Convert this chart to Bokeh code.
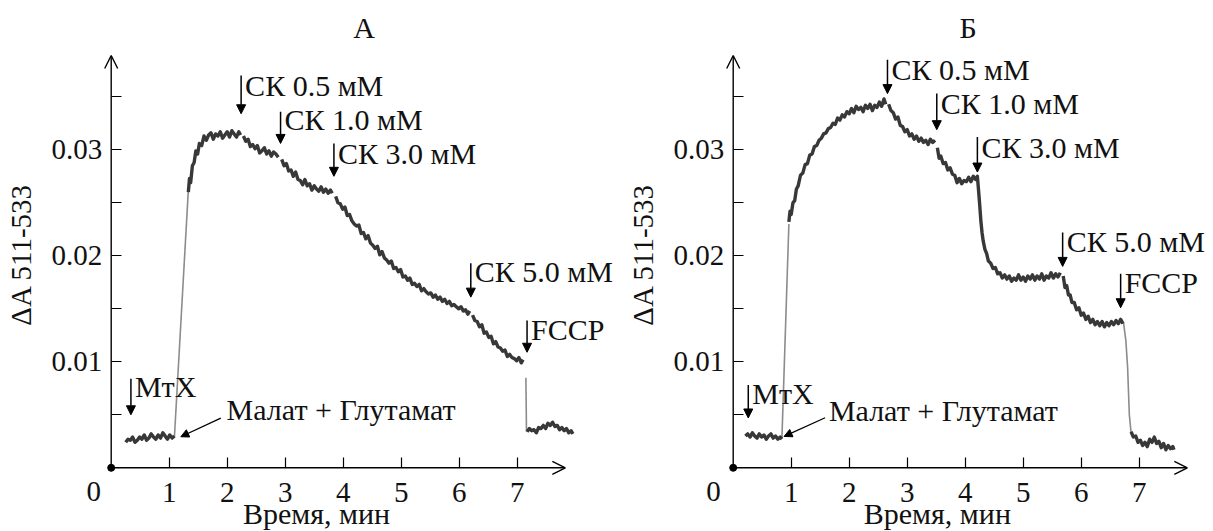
import math
from bokeh.plotting import figure
from bokeh.layouts import row
from bokeh.models import Label, Arrow, NormalHead, OpenHead, FixedTicker, Range1d, PrintfTickFormatter
from bokeh.embed import file_html
from bokeh.resources import INLINE

FONT = "Liberation Serif"
MILLI = 1e-3  # trace values below are in units of 0.001 (ΔA)

# ---------------- Panel A (time, min ; ΔA x1000) ----------------
A_baseline = [(0.25, 2.4), (0.29, 2.7), (0.33, 2.6), (0.37, 2.9), (0.41, 2.4), (0.45, 2.6), (0.49, 2.9),
              (0.53, 2.7), (0.57, 3.1), (0.61, 2.6), (0.65, 2.8), (0.69, 3.2), (0.73, 2.9), (0.77, 2.7),
              (0.81, 3.1), (0.85, 2.8), (0.89, 3.3), (0.93, 3.0), (0.97, 2.7), (1.01, 3.1), (1.05, 2.8), (1.09, 3.0)]
A_rise = [(1.33, 26.0), (1.35, 27.3), (1.37, 26.9), (1.40, 28.5), (1.43, 28.8), (1.46, 29.9), (1.49, 29.6),
          (1.52, 30.6), (1.56, 30.4), (1.60, 31.3), (1.64, 30.9), (1.68, 31.4), (1.72, 31.6), (1.76, 31.0),
          (1.80, 31.5), (1.84, 31.3), (1.88, 31.7), (1.92, 31.1), (1.96, 31.4), (2.00, 31.7), (2.04, 31.2),
          (2.08, 31.8), (2.12, 31.5), (2.16, 31.2), (2.20, 31.7), (2.23, 31.4)]
A_sk05 = [(2.28, 31.3), (2.32, 30.8), (2.36, 31.0), (2.40, 30.3), (2.44, 30.5), (2.48, 30.1), (2.52, 30.4),
          (2.56, 29.7), (2.60, 29.9), (2.64, 30.2), (2.68, 29.6), (2.72, 29.9), (2.76, 29.4), (2.80, 29.8),
          (2.84, 29.6), (2.88, 29.3)]
A_sk10 = [(2.94, 29.1), (2.98, 28.5), (3.02, 28.7), (3.06, 28.0), (3.10, 28.1), (3.14, 27.5), (3.18, 27.9),
          (3.22, 27.2), (3.26, 27.1), (3.30, 26.7), (3.34, 27.2), (3.38, 26.6), (3.42, 26.8), (3.46, 26.2),
          (3.50, 26.6), (3.54, 26.3), (3.58, 26.1), (3.62, 26.5), (3.66, 26.0), (3.70, 26.3), (3.74, 25.9),
          (3.78, 26.2), (3.81, 25.9)]
A_sk30 = [(3.87, 25.6), (3.91, 25.0), (3.95, 24.9), (3.99, 24.4), (4.03, 24.6), (4.07, 23.8), (4.11, 23.9),
          (4.15, 23.3), (4.19, 23.0), (4.23, 22.8), (4.27, 22.9), (4.31, 22.1), (4.35, 22.2), (4.39, 21.6),
          (4.43, 21.9), (4.47, 21.2), (4.51, 21.0), (4.55, 20.7), (4.59, 20.9), (4.63, 20.1), (4.67, 20.4),
          (4.71, 19.8), (4.75, 19.6), (4.79, 19.3), (4.83, 19.5), (4.87, 18.8), (4.91, 18.9), (4.95, 18.5),
          (4.99, 18.7), (5.03, 18.0), (5.07, 18.1), (5.11, 17.7), (5.15, 17.9), (5.19, 17.3), (5.23, 17.4),
          (5.27, 17.1), (5.31, 17.3), (5.35, 16.7), (5.39, 16.9), (5.43, 16.6), (5.47, 16.4), (5.51, 16.5),
          (5.55, 16.1), (5.59, 16.3), (5.63, 15.9), (5.67, 16.1), (5.71, 15.7), (5.75, 15.9), (5.79, 15.5),
          (5.83, 15.7), (5.87, 15.3), (5.91, 15.4), (5.95, 15.2), (5.99, 15.0), (6.03, 15.2), (6.07, 14.8),
          (6.11, 14.9), (6.15, 14.5), (6.18, 14.8)]
A_sk50 = [(6.23, 14.4), (6.27, 13.9), (6.31, 13.8), (6.35, 13.3), (6.39, 13.5), (6.43, 12.7), (6.47, 12.8),
          (6.51, 12.3), (6.55, 12.4), (6.59, 11.7), (6.63, 11.9), (6.67, 11.4), (6.71, 11.3), (6.75, 11.0),
          (6.79, 11.1), (6.83, 10.5), (6.87, 10.7), (6.91, 10.4), (6.95, 10.3), (6.99, 10.1), (7.03, 10.4),
          (7.07, 9.9), (7.10, 10.2)]
A_fccp = [(7.17, 3.4), (7.21, 3.7), (7.25, 3.5), (7.29, 3.6), (7.33, 3.3), (7.37, 3.8), (7.41, 3.7),
          (7.45, 4.0), (7.49, 3.7), (7.53, 4.2), (7.57, 4.0), (7.61, 4.3), (7.65, 3.9), (7.69, 4.0),
          (7.73, 3.6), (7.77, 3.8), (7.81, 3.5), (7.85, 3.7), (7.89, 3.3), (7.93, 3.5), (7.96, 3.2)]
A_jumps = [[(1.09, 2.9), (1.33, 26.2)], [(7.15, 8.5), (7.16, 3.4)]]

# ---------------- Panel Б ----------------
B_baseline = [(0.21, 3.0), (0.25, 3.2), (0.29, 2.9), (0.33, 3.3), (0.37, 3.0), (0.41, 2.8), (0.45, 3.2),
              (0.49, 2.9), (0.53, 3.1), (0.57, 2.7), (0.61, 3.0), (0.65, 3.2), (0.69, 2.8), (0.73, 3.0),
              (0.77, 2.7), (0.81, 2.9), (0.84, 2.7)]
B_rise = [(0.96, 23.2), (0.98, 24.2), (1.00, 23.9), (1.03, 25.0), (1.06, 25.2), (1.09, 26.3), (1.12, 26.6),
          (1.16, 27.6), (1.20, 27.8), (1.24, 28.6), (1.28, 28.7), (1.32, 29.5), (1.36, 29.6), (1.40, 30.3),
          (1.44, 30.4), (1.48, 30.9), (1.52, 31.1), (1.56, 31.5), (1.60, 31.6), (1.64, 32.0), (1.68, 32.1),
          (1.72, 32.5), (1.76, 32.4), (1.80, 33.0), (1.84, 32.8), (1.88, 33.3), (1.92, 33.1), (1.96, 33.6),
          (2.00, 33.4), (2.04, 33.9), (2.08, 33.5), (2.12, 34.1), (2.16, 33.8), (2.20, 34.0), (2.24, 33.6),
          (2.28, 34.2), (2.32, 33.9), (2.36, 34.3), (2.40, 33.7), (2.44, 34.2), (2.48, 34.0), (2.52, 34.5),
          (2.56, 34.1), (2.60, 34.8), (2.63, 34.3)]
B_sk05 = [(2.68, 34.3), (2.72, 33.7), (2.76, 33.5), (2.80, 32.9), (2.84, 33.1), (2.88, 32.3), (2.92, 32.2),
          (2.96, 31.7), (3.00, 31.9), (3.04, 31.3), (3.08, 31.5), (3.12, 31.0), (3.16, 31.3), (3.20, 30.8),
          (3.24, 31.1), (3.28, 30.7), (3.32, 30.9), (3.36, 30.5), (3.40, 31.0), (3.44, 30.7), (3.48, 30.9)]
B_sk10 = [(3.52, 30.2), (3.55, 29.2), (3.58, 29.4), (3.62, 28.7), (3.66, 28.8), (3.70, 28.1), (3.74, 28.3),
          (3.78, 27.7), (3.82, 27.6), (3.86, 26.9), (3.90, 27.3), (3.94, 26.8), (3.98, 27.1), (4.02, 27.0),
          (4.06, 27.4), (4.10, 27.0), (4.14, 27.5), (4.18, 27.2), (4.21, 27.5), (4.23, 26.2), (4.25, 24.8),
          (4.27, 23.3), (4.29, 22.2), (4.31, 21.4), (4.34, 20.6), (4.37, 20.2), (4.40, 19.5), (4.44, 19.3),
          (4.48, 18.8), (4.52, 18.9), (4.56, 18.3), (4.60, 18.4), (4.64, 17.9), (4.68, 18.2), (4.72, 17.8),
          (4.76, 18.1), (4.80, 17.6), (4.84, 17.9), (4.88, 17.7), (4.92, 18.2), (4.96, 17.7), (5.00, 18.0),
          (5.04, 17.6), (5.08, 18.1), (5.12, 17.8), (5.16, 18.2), (5.20, 17.7), (5.24, 18.1), (5.28, 17.8),
          (5.32, 18.3), (5.36, 17.7), (5.40, 18.1), (5.44, 17.9), (5.48, 18.4), (5.52, 17.9), (5.56, 18.3),
          (5.60, 18.0), (5.64, 18.4)]
B_sk50 = [(5.69, 18.1), (5.72, 17.0), (5.75, 17.2), (5.78, 16.3), (5.81, 16.3), (5.84, 15.6), (5.88, 15.6),
          (5.92, 14.9), (5.96, 15.1), (6.00, 14.4), (6.04, 14.6), (6.08, 14.0), (6.12, 14.3), (6.16, 13.7),
          (6.20, 14.0), (6.24, 13.5), (6.28, 13.8), (6.32, 13.4), (6.36, 13.8), (6.40, 13.3), (6.44, 13.7),
          (6.48, 13.4), (6.52, 13.8), (6.56, 13.5), (6.60, 13.9), (6.64, 13.6), (6.68, 14.0), (6.72, 13.6)]
B_fccp = [(6.86, 3.4), (6.90, 2.9), (6.94, 3.0), (6.98, 2.4), (7.02, 2.6), (7.06, 2.1), (7.10, 2.4),
          (7.14, 2.0), (7.18, 2.7), (7.22, 2.4), (7.26, 2.9), (7.30, 2.3), (7.34, 2.5), (7.38, 1.9),
          (7.42, 2.3), (7.46, 1.7), (7.50, 2.1), (7.54, 1.8), (7.58, 2.0), (7.60, 1.7)]
B_jumps = [[(0.84, 2.8), (0.96, 23.0)], [(6.73, 13.7), (6.77, 12.0), (6.80, 9.5), (6.83, 5.0), (6.86, 3.3)]]

X_TICKS = [1, 2, 3, 4, 5, 6, 7]
Y_TICKS = [0.01, 0.02, 0.03]
Y_MINOR = [0.005, 0.015, 0.025, 0.035]

# annotation layout: (text, arrow x, arrow top, arrow tip, text baseline y)
A_marks = [("МтХ", 0.34, 0.0084, 0.0050, 0.0067),
           ("СК 0.5 мМ", 2.24, 0.0370, 0.0334, 0.0351),
           ("СК 1.0 мМ", 2.92, 0.0336, 0.0306, 0.0319),
           ("СК 3.0 мМ", 3.84, 0.0306, 0.0275, 0.0287),
           ("СК 5.0 мМ", 6.20, 0.0193, 0.0161, 0.0176),
           ("FCCP", 7.17, 0.0139, 0.0109, 0.0121)]
B_marks = [("МтХ", 0.26, 0.0078, 0.0047, 0.0061),
           ("СК 0.5 мМ", 2.66, 0.0385, 0.0353, 0.0366),
           ("СК 1.0 мМ", 3.51, 0.0353, 0.0319, 0.0334),
           ("СК 3.0 мМ", 4.21, 0.0312, 0.0279, 0.0293),
           ("СК 5.0 мМ", 5.68, 0.0222, 0.0190, 0.0204),
           ("FCCP", 6.68, 0.0183, 0.0151, 0.0165)]

PX_PER_MIN = 58.0
PX_PER_UNIT = 10600.0
HEIGHT = 531
ZERO_FROM_BOTTOM = 63.7
LIFT = 10.0 / PX_PER_UNIT   # label baseline correction (about 10 px)


def join(segments):
    xs, ys = [], []
    for seg in segments:
        if xs:
            xs.append(float("nan"))
            ys.append(float("nan"))
        for t, v in seg:
            xs.append(t)
            ys.append(v * MILLI)
    return xs, ys


def text(p, x, y, s, size="30px", align="left", x_offset=0):
    p.add_layout(Label(x=x, y=y + LIFT, x_offset=x_offset, text=s, text_font=FONT, text_font_size=size,
                       text_align=align, text_baseline="alphabetic", text_color="#111111"))


def panel(title, title_x, segments, jumps, marks, malat, xlabel_x, zero_x, width, zero_px):
    x0 = -zero_px / PX_PER_MIN
    y0 = -ZERO_FROM_BOTTOM / PX_PER_UNIT
    p = figure(width=width, height=HEIGHT,
               x_range=Range1d(x0, x0 + width / PX_PER_MIN),
               y_range=Range1d(y0, y0 + HEIGHT / PX_PER_UNIT),
               output_backend="svg", toolbar_location=None, min_border=0)
    p.outline_line_color = None
    p.xgrid.visible = False
    p.ygrid.visible = False
    p.background_fill_color = "white"
    p.border_fill_color = "white"

    # axes fixed at the origin
    p.xaxis.fixed_location = 0
    p.yaxis.fixed_location = 0
    p.xaxis.ticker = FixedTicker(ticks=X_TICKS)
    p.yaxis.ticker = FixedTicker(ticks=Y_TICKS, minor_ticks=Y_MINOR)
    p.yaxis.formatter = PrintfTickFormatter(format="%.2f")
    p.yaxis.bounds = (0, 0.0402)
    for ax in (p.xaxis[0], p.yaxis[0]):
        ax.axis_line_color = None
        ax.major_tick_in = 10
        ax.major_tick_out = 0
        ax.minor_tick_in = 10
        ax.minor_tick_out = 0
        ax.major_tick_line_color = "black"
        ax.minor_tick_line_color = "black"
        ax.major_tick_line_width = 1.2
        ax.minor_tick_line_width = 1.2
        ax.major_label_text_font = FONT
        ax.major_label_text_font_size = "29px"
        ax.major_label_text_color = "#111111"
    p.xaxis.major_label_standoff = 15
    p.yaxis.major_label_standoff = 9
    p.yaxis.axis_label = "ΔA 511-533"
    p.yaxis.axis_label_text_font = FONT
    p.yaxis.axis_label_text_font_size = "29px"
    p.yaxis.axis_label_text_font_style = "normal"
    p.yaxis.axis_label_text_color = "#111111"
    p.yaxis.axis_label_standoff = 12

    # axis arrows and origin
    p.add_layout(Arrow(x_start=0, y_start=0, x_end=7.83, y_end=0, line_width=1.4, line_color="black",
                       end=OpenHead(size=13, line_width=1.4, line_color="black")))
    p.add_layout(Arrow(x_start=0, y_start=0, x_end=0, y_end=0.0389, line_width=1.4, line_color="black",
                       end=OpenHead(size=13, line_width=1.4, line_color="black")))
    p.scatter([0], [0], size=7, color="black")
    text(p, zero_x, -0.00321, "0", size="29px", align="center")
    text(p, xlabel_x, -0.00522, "Время, мин", align="center")
    text(p, title_x, 0.04058, title, align="center")

    # traces
    jx, jy = [], []
    for seg in jumps:
        jx.append([t for t, _ in seg])
        jy.append([v * MILLI for _, v in seg])
    p.multi_line(jx, jy, line_color="#8c8c8c", line_width=1.6)
    xs, ys = join(segments)
    p.line(xs, ys, line_color="#383838", line_width=3.4, line_join="round")

    # markers
    for s, ax_, top, tip, ty in marks:
        p.add_layout(Arrow(x_start=ax_, y_start=top, x_end=ax_, y_end=tip, line_width=1.5, line_color="black",
                           end=NormalHead(size=9, fill_color="black", line_color="black", line_width=1)))
        text(p, ax_, ty, s, x_offset=4)
    mtext_x, mtext_y, a0x, a0y, a1x, a1y = malat
    text(p, mtext_x, mtext_y, "Малат + Глутамат")
    p.add_layout(Arrow(x_start=a0x, y_start=a0y, x_end=a1x, y_end=a1y, line_width=1.3, line_color="black",
                       end=NormalHead(size=8, fill_color="black", line_color="black", line_width=1)))
    return p


pA = panel("А", 4.36, [A_baseline, A_rise, A_sk05, A_sk10, A_sk30, A_sk50, A_fccp], A_jumps, A_marks,
           (1.99, 0.0046, 1.89, 0.00468, 1.20, 0.00293), 3.54, -0.30, 619, 110.7)
pB = panel("Б", 4.05, [B_baseline, B_rise, B_sk05, B_sk10, B_sk50, B_fccp], B_jumps, B_marks,
           (1.65, 0.0045, 1.585, 0.00472, 0.877, 0.00296), 3.52, -0.34, 594, 113.7)

layout = row(pA, pB)
open("out.html", "w").write(file_html(layout, INLINE))
